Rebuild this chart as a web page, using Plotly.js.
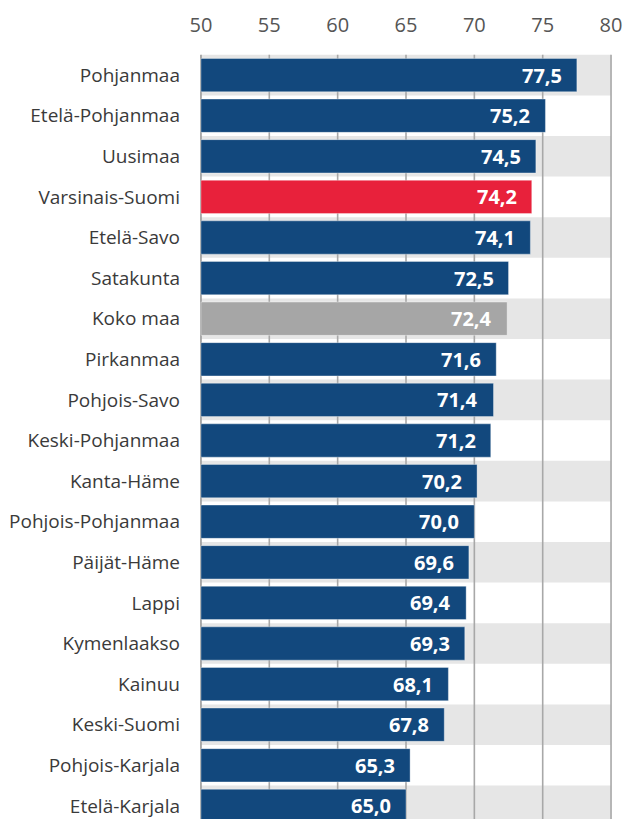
<!DOCTYPE html>
<html>
<head>
<meta charset="utf-8">
<script src="https://cdn.plot.ly/plotly-3.0.1.min.js"></script>
<style>
html,body{margin:0;padding:0;overflow:hidden;background:#fff;}
#chart{width:625px;height:827px;}
</style>
</head>
<body>
<div id="chart"></div>
<script>
const regions = ["Pohjanmaa","Etelä-Pohjanmaa","Uusimaa","Varsinais-Suomi","Etelä-Savo","Satakunta","Koko maa","Pirkanmaa","Pohjois-Savo","Keski-Pohjanmaa","Kanta-Häme","Pohjois-Pohjanmaa","Päijät-Häme","Lappi","Kymenlaakso","Kainuu","Keski-Suomi","Pohjois-Karjala","Etelä-Karjala"];
const values = [77.5,75.2,74.5,74.2,74.1,72.5,72.4,71.6,71.4,71.2,70.2,70.0,69.6,69.4,69.3,68.1,67.8,65.3,65.0];
const xTicks = [50,55,60,65,70,75,80];
const highlightRegion = "Varsinais-Suomi";
const totalRegion = "Koko maa";

const BLUE = "#12487d", RED = "#e8213b", GRAY = "#a6a6a6";
const colors = regions.map(r => r === highlightRegion ? RED : (r === totalRegion ? GRAY : BLUE));
const fmt = v => v.toFixed(1).replace('.', ',');
const xMin = xTicks[0], xMax = xTicks[xTicks.length - 1];

const bandShapes = regions.map((r, i) => i % 2 === 0 ? {
  type: 'rect', xref: 'x', yref: 'y', x0: xMin, x1: xMax, y0: i - 0.5, y1: i + 0.5,
  fillcolor: '#e6e6e6', line: {width: 0}, layer: 'below'
} : null).filter(Boolean);

const gridShapes = xTicks.map(t => ({
  type: 'line', xref: 'x', yref: 'y', x0: t, x1: t, y0: -0.5, y1: regions.length - 0.5,
  line: {color: t === xMin ? '#9a9a9a' : '#a8a8a8', width: 1.6}, layer: 'below'
}));

const annotations = regions.map((r, i) => ({
  x: values[i], y: r, xref: 'x', yref: 'y', text: '<b>' + fmt(values[i]) + '</b>',
  showarrow: false, xanchor: 'right', xshift: -13,
  font: {family: 'Open Sans, sans-serif', size: 20, color: '#ffffff'}
}));

const trace = {
  type: 'bar', orientation: 'h', x: values.map(v => v - xMin), y: regions, base: xMin,
  marker: {color: colors, line: {width: 1, color: 'rgba(255,255,255,0.35)'}},
  width: 0.82, hoverinfo: 'none'
};

const layout = {
  width: 625, height: 827,
  margin: {l: 200, r: 13, t: 54, b: 0},
  paper_bgcolor: '#fff', plot_bgcolor: '#fff',
  showlegend: false,
  font: {family: 'Open Sans, sans-serif', color: '#333'},
  xaxis: {
    side: 'top', range: [xMin - 0.07, xMax + 0.07], tickvals: xTicks, ticktext: xTicks.map(String),
    showgrid: false, zeroline: false,
    ticks: '', ticklabelstandoff: 17, tickfont: {size: 20, color: '#555'},
    fixedrange: true
  },
  yaxis: {
    type: 'category', autorange: 'reversed', showgrid: false, zeroline: false,
    showline: false, ticks: '', ticklabelstandoff: 19,
    tickfont: {size: 19, color: '#3a3a3a'}, fixedrange: true
  },
  shapes: bandShapes.concat(gridShapes),
  annotations: annotations
};

Plotly.newPlot('chart', [trace], layout, {displayModeBar: false, staticPlot: true});
</script>
</body>
</html>
